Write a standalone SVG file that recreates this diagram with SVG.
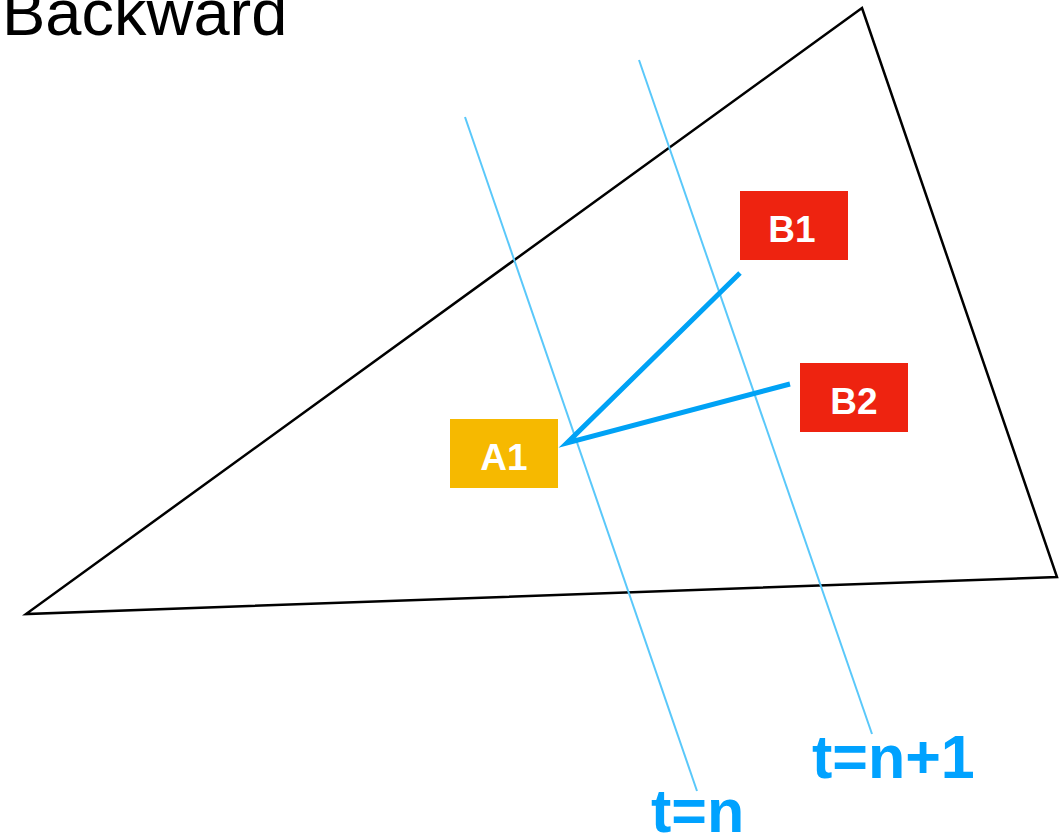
<svg xmlns="http://www.w3.org/2000/svg" width="1064" height="838" viewBox="0 0 1064 838">
<style>
.box-red{fill:#EE2310}
.box-yel{fill:#F6B900}
.lbl{font-family:"Liberation Sans",Arial,sans-serif;font-size:37px;font-weight:bold;fill:#fff;text-anchor:middle}
.tl{font-family:"Liberation Sans",Arial,sans-serif;font-size:61px;font-weight:bold;fill:#00A2FF}
.time{stroke:#5AC8FA;stroke-width:2;fill:none}
.conn{stroke:#00A2F5;stroke-width:5;fill:none}
</style>
<rect width="1064" height="838" fill="#fff"/>
<text x="2" y="35" font-family="'Liberation Sans',Arial,sans-serif" font-size="65" fill="#000">Backward</text>
<polygon points="862,8 1057,577 26,614" fill="none" stroke="#000" stroke-width="2.5" stroke-linejoin="miter"/>
<g id="timelines">
<line class="time" x1="465" y1="117" x2="697" y2="791"/>
<line class="time" x1="639" y1="60" x2="872" y2="734"/>
</g>
<g id="connectors">
<polyline class="conn" points="740,273 567,443 790,384"/>
</g>
<g id="A1"><rect class="box-yel" x="450" y="419" width="108" height="69"/><text class="lbl" x="504" y="470">A1</text></g>
<g id="B1"><rect class="box-red" x="740" y="191" width="108" height="69"/><text class="lbl" x="792" y="242">B1</text></g>
<g id="B2"><rect class="box-red" x="800" y="363" width="108" height="69"/><text class="lbl" x="854" y="414">B2</text></g>
<text class="tl" x="651" y="832">t=n</text>
<text class="tl" x="812" y="778">t=n+1</text>
</svg>
